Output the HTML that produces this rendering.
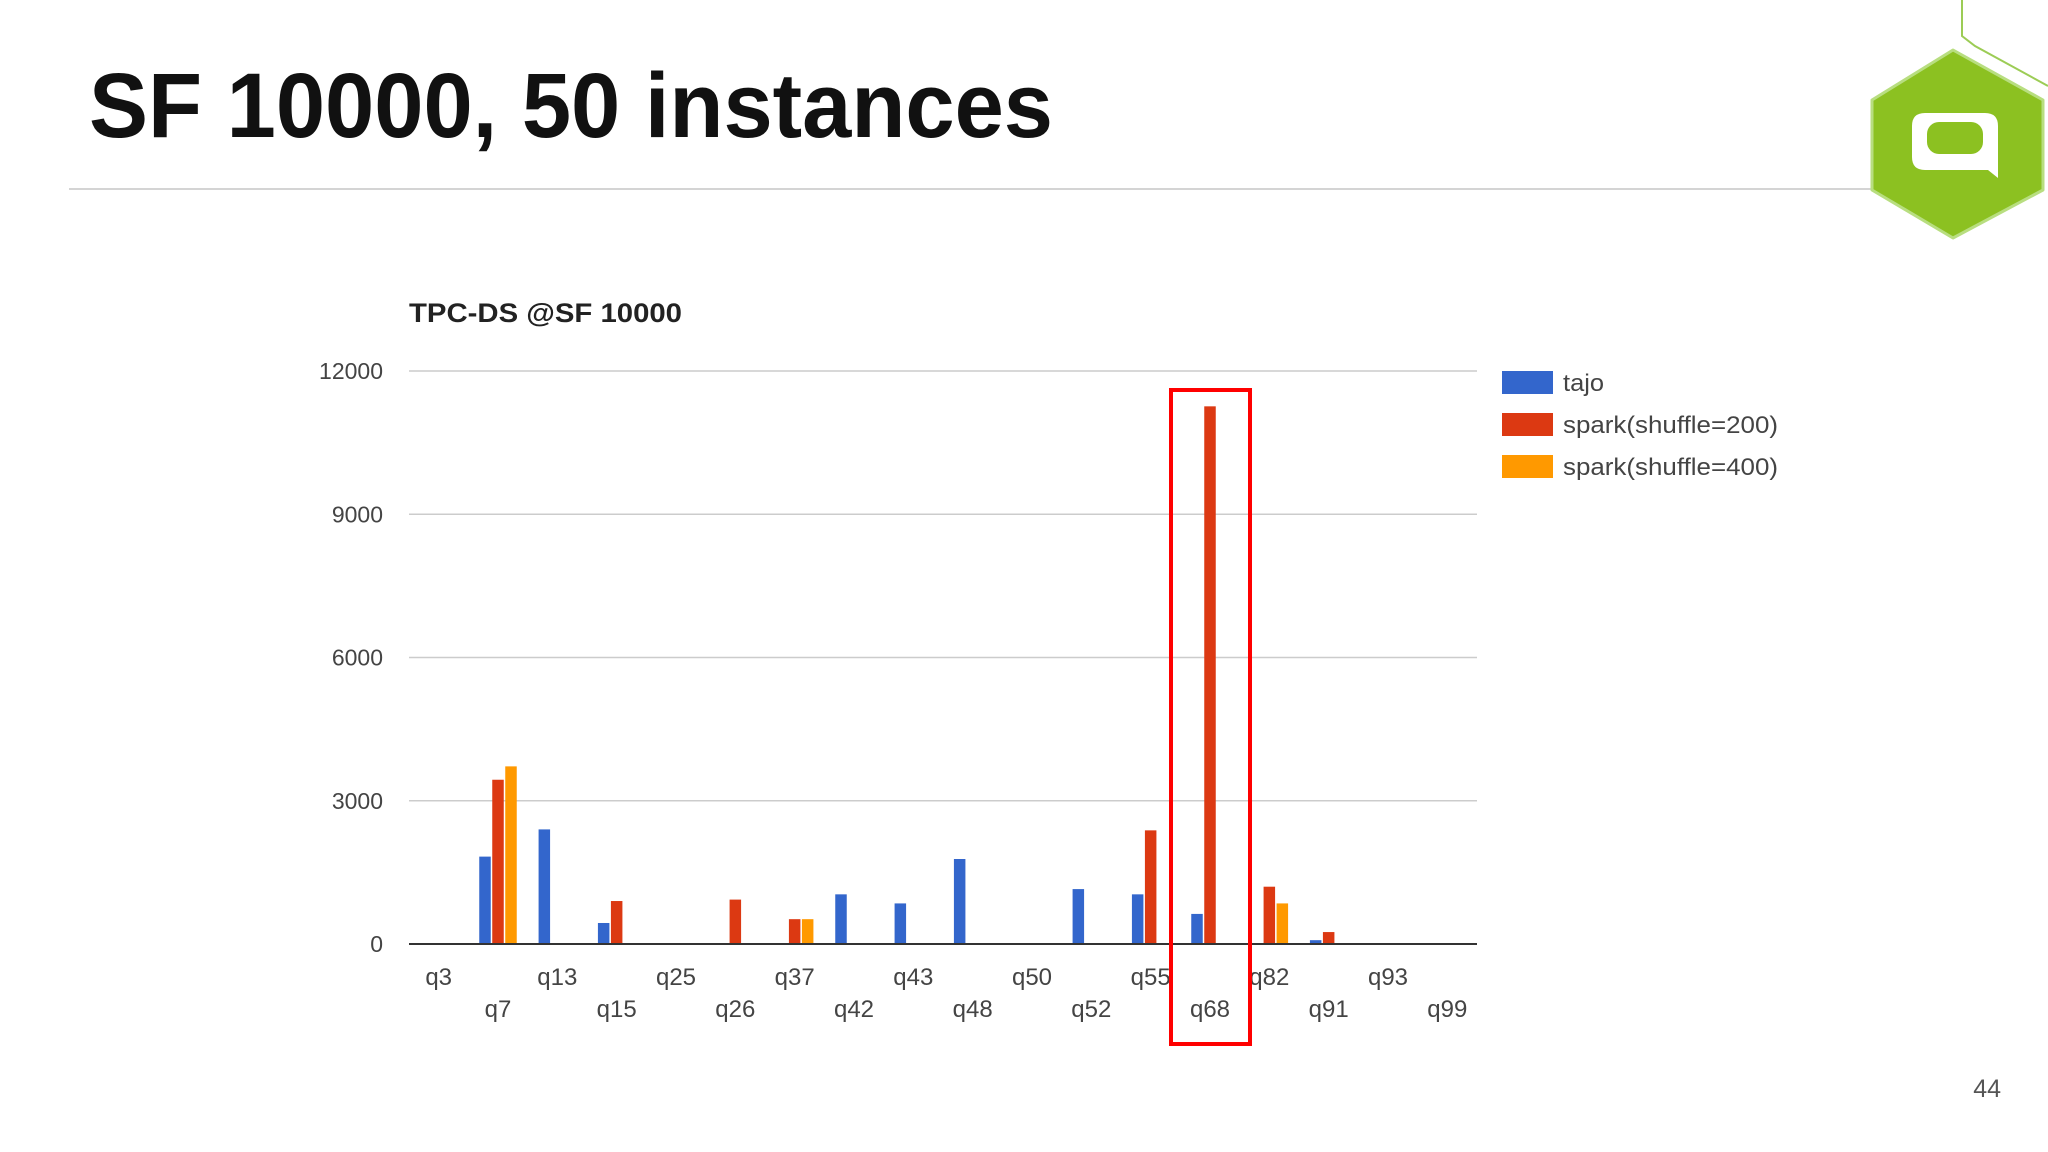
<!DOCTYPE html>
<html><head><meta charset="utf-8"><style>
body{margin:0;background:#fff;}
#page{position:relative;width:2048px;height:1152px;overflow:hidden;background:#fff;font-family:"Liberation Sans",sans-serif;}
</style></head><body>
<div id="page">
<svg width="2048" height="1152" style="position:absolute;left:0;top:0">
  <text x="89" y="137" font-family="Liberation Sans, sans-serif" font-weight="bold" font-size="92" fill="#111" textLength="964" lengthAdjust="spacingAndGlyphs">SF 10000, 50 instances</text>
  <line x1="69" y1="189" x2="1872" y2="189" stroke="#d4d4d4" stroke-width="2"/>
  <g>
    <polyline points="1962,0 1962,36 1975,46 2048,86" fill="none" stroke="#9ccc55" stroke-width="2"/>
    <polygon points="1953,50 2043,100 2043,190 1953,238 1872,190 1872,100" fill="#8cc121" stroke="#b8de80" stroke-width="3" stroke-linejoin="round"/>
    <path d="M1925,113 H1985 Q1998,113 1998,126 V178 L1988,170 H1925 Q1912,170 1912,157 V126 Q1912,113 1925,113 Z" fill="#fff"/>
    <rect x="1927" y="122" width="56" height="32" rx="12" fill="#8cc121"/>
  </g>
  <text x="2001" y="1097" text-anchor="end" font-size="25" fill="#555">44</text>
  <g id="chart"></g>
</svg>
</div>
<script>
const categories=["q3","q7","q13","q15","q25","q26","q37","q42","q43","q48","q50","q52","q55","q68","q82","q91","q93","q99"];
const tajo=[0,1830,2400,440,0,0,0,1040,850,1780,0,1150,1040,630,0,80,0,0];
const spark200=[0,3440,0,900,0,930,520,0,0,0,0,0,2380,11260,1200,250,0,0];
const spark400=[0,3720,0,0,0,0,520,0,0,0,0,0,0,0,850,0,0,0];
const seriesNames=["tajo","spark(shuffle=200)","spark(shuffle=400)"];
const yTicks=[0,3000,6000,9000,12000];
const colors=["#3366cc","#dc3912","#ff9900"];
const NS="http://www.w3.org/2000/svg";
const g=document.getElementById('chart');
const L=409,R=1477,T=371,B=944,YMAX=12000;
const band=(R-L)/categories.length;
function y(v){return B-(v/YMAX)*(B-T);}
function xc(i){return L+band*(i+0.5);}
function mk(tag,attrs,txt){const e=document.createElementNS(NS,tag);for(const k in attrs)e.setAttribute(k,attrs[k]);if(txt!==undefined)e.textContent=txt;g.appendChild(e);return e;}
let e=mk('text',{x:409,y:322,'font-size':27,'font-weight':'bold',fill:'#222',textLength:273,lengthAdjust:'spacingAndGlyphs'},'TPC-DS @SF 10000');


yTicks.forEach(t=>{
  if(t>0){const l=mk('line',{x1:L,x2:R,y1:y(t),y2:y(t),stroke:'#cccccc','stroke-width':1.5});
  
  }
  const tx=mk('text',{x:383,y:y(t)+8,'text-anchor':'end','font-size':23,fill:'#444'},String(t));
  
  
});
const series=[tajo,spark200,spark400];
const bw=11.5,step=13;
categories.forEach((c,i)=>{
  series.forEach((s,k)=>{
    if(s[i]>0){
      const r=mk('rect',{x:xc(i)+(k-1)*step-bw/2,y:y(s[i]),width:bw,height:B-y(s[i]),fill:colors[k]});
      
      
    }
  });
  const lb=mk('text',{x:xc(i),y:(i%2===0)?985:1017,'text-anchor':'middle','font-size':24,fill:'#444'},c);
  
  
});
const ax=mk('line',{x1:L,x2:R,y1:B,y2:B,stroke:'#333','stroke-width':2});


const legendLens=[41,215,215];
seriesNames.forEach((n,k)=>{
  const sw=mk('rect',{x:1502,y:371+k*42,width:51,height:23,fill:colors[k]});
  
  
  const t=mk('text',{x:1563,y:391+k*42,'font-size':24,fill:'#444',textLength:legendLens[k],lengthAdjust:'spacingAndGlyphs'},n);
  
  
});
const hl=mk('rect',{x:1171,y:390,width:79,height:654,fill:'none',stroke:'#ff0000','stroke-width':4});


</script>
</body></html>
